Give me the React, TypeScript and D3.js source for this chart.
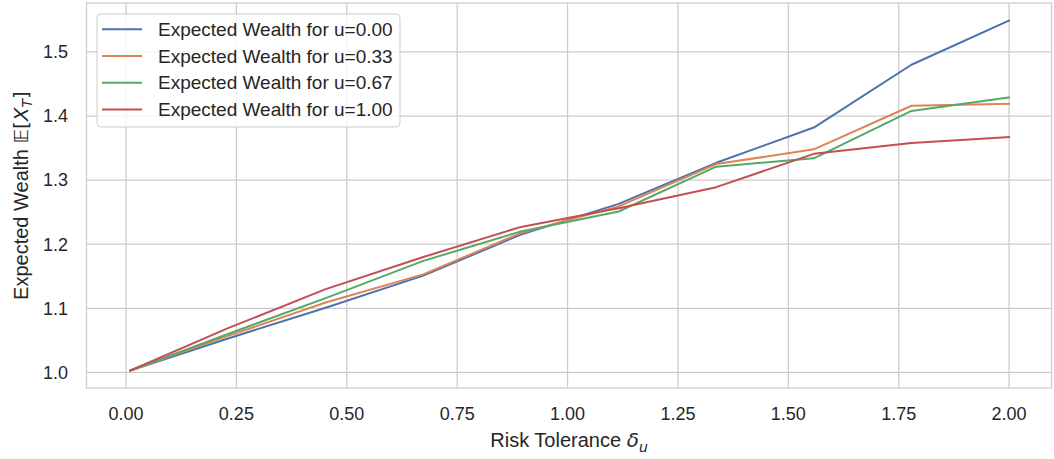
import React from "react";
import * as d3 from "d3";

const xValues = [0.01, 0.2311, 0.4522, 0.6733, 0.8944, 1.1156, 1.3367, 1.5578, 1.7789, 2.0];
const seriesNames = [
  "Expected Wealth for u=0.00",
  "Expected Wealth for u=0.33",
  "Expected Wealth for u=0.67",
  "Expected Wealth for u=1.00",
];
const wealthU000 = [1.003, 1.053, 1.101, 1.151, 1.215, 1.263, 1.327, 1.382, 1.48, 1.549];
const wealthU033 = [1.003, 1.057, 1.109, 1.153, 1.2175, 1.259, 1.325, 1.348, 1.416, 1.419];
const wealthU067 = [1.003, 1.06, 1.116, 1.174, 1.22, 1.251, 1.321, 1.334, 1.408, 1.429];
const wealthU100 = [1.003, 1.069, 1.13, 1.18, 1.227, 1.256, 1.289, 1.341, 1.358, 1.367];
const xTicks = [0, 0.25, 0.5, 0.75, 1.0, 1.25, 1.5, 1.75, 2.0];
const yTicks = [1.0, 1.1, 1.2, 1.3, 1.4, 1.5];

const colors = ["#4c72b0", "#dd8452", "#55a868", "#c44e52"];
const allSeries = [wealthU000, wealthU033, wealthU067, wealthU100];

const W = 1054;
const H = 459;
const left = 86.5;
const right = 1053;
const top = 3;
const bottom = 388;
const textColor = "#262626";
const gridColor = "#cccccc";
const font = "'Liberation Sans', Arial, sans-serif";

export default function App() {
  const xMin = d3.min(xValues)!;
  const xMax = d3.max(xValues)!;
  const xPad = (xMax - xMin) * 0.05;
  const allY = allSeries.flat();
  const yMin = d3.min(allY)!;
  const yMax = d3.max(allY)!;
  const yPad = (yMax - yMin) * 0.05;

  const x = d3.scaleLinear().domain([xMin - xPad, xMax + xPad]).range([left, right]);
  const y = d3.scaleLinear().domain([yMin - yPad, yMax + yPad]).range([bottom, top]);

  const line = d3
    .line<number>()
    .x((_, i) => x(xValues[i]))
    .y((d) => y(d));

  const legendX = 97;
  const legendY = 14;
  const legendW = 303;
  const legendH = 113;
  const rowH = 26.7;

  return (
    <svg
      width={W}
      height={H}
      style={{ position: "absolute", left: 0, top: 0, background: "#fff" }}
      fontFamily={font}
    >
      <rect x={0} y={0} width={W} height={H} fill="#fff" />
      {xTicks.map((t) => (
        <line key={"gx" + t} x1={x(t)} x2={x(t)} y1={top} y2={bottom} stroke={gridColor} strokeWidth={1.25} />
      ))}
      {yTicks.map((t) => (
        <line key={"gy" + t} x1={left} x2={right - 1.5} y1={y(t)} y2={y(t)} stroke={gridColor} strokeWidth={1.25} />
      ))}
      <rect x={left} y={top} width={right - 1.5 - left} height={bottom - top} fill="none" stroke={gridColor} strokeWidth={1.25} />
      {allSeries.map((s, i) => (
        <path key={"l" + i} d={line(s) || ""} fill="none" stroke={colors[i]} strokeWidth={2} strokeLinejoin="round" strokeLinecap="square" />
      ))}
      {xTicks.map((t) => (
        <text key={"xt" + t} x={x(t)} y={420} textAnchor="middle" fontSize={18} fill={textColor}>
          {d3.format(".2f")(t)}
        </text>
      ))}
      {yTicks.map((t) => (
        <text key={"yt" + t} x={68} y={y(t)} dy="0.35em" textAnchor="end" fontSize={18} fill={textColor}>
          {d3.format(".1f")(t)}
        </text>
      ))}
      <text x={569} y={447} textAnchor="middle" fontSize={20} fill={textColor}>
        Risk Tolerance{" "}
        <tspan fontFamily="'DejaVu Sans', sans-serif" fontStyle="italic">δ</tspan>
        <tspan fontFamily="'DejaVu Sans', sans-serif" fontStyle="italic" fontSize={14} dy={5}>u</tspan>
      </text>
      <text
        transform={`translate(28, ${(top + bottom) / 2}) rotate(-90)`}
        textAnchor="middle"
        fontSize={20}
        fill={textColor}
      >
        Expected Wealth{" "}
        <tspan fontFamily="'DejaVu Sans', sans-serif">𝔼[</tspan>
        <tspan fontFamily="'DejaVu Sans', sans-serif" fontStyle="italic">X</tspan>
        <tspan fontFamily="'DejaVu Sans', sans-serif" fontStyle="italic" fontSize={14} dy={4}>T</tspan>
        <tspan fontFamily="'DejaVu Sans', sans-serif" dy={-4}>]</tspan>
      </text>
      <rect
        x={legendX}
        y={legendY}
        width={legendW}
        height={legendH}
        rx={4}
        fill="#fff"
        fillOpacity={0.8}
        stroke={gridColor}
        strokeWidth={1}
      />
      {seriesNames.map((name, i) => {
        const cy = 29.3 + i * rowH;
        return (
          <g key={"lg" + i}>
            <line x1={102} x2={142} y1={cy} y2={cy} stroke={colors[i]} strokeWidth={2} />
            <text x={158} y={cy} dy="0.35em" fontSize={19} fill={textColor}>
              {name}
            </text>
          </g>
        );
      })}
    </svg>
  );
}
